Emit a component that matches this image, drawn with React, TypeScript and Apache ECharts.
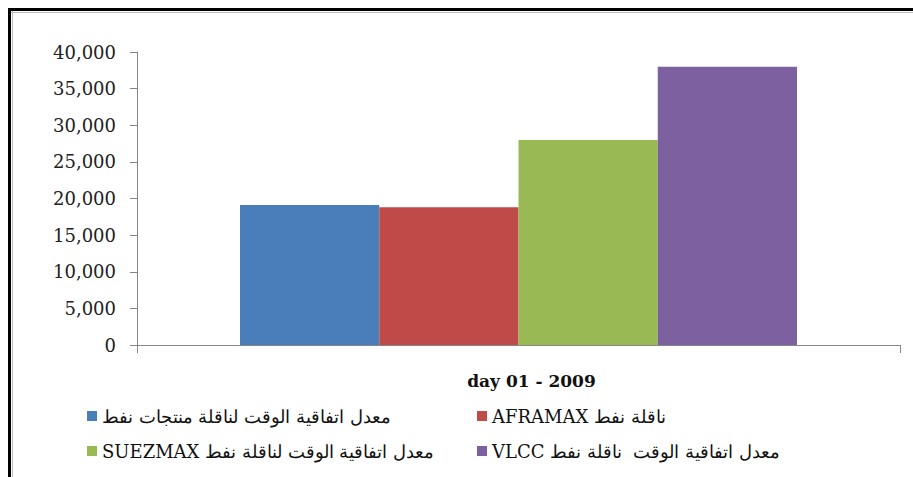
import React, { useEffect, useRef } from "react";
import * as echarts from "echarts";

const categories = ["day 01 - 2009"];
const seriesNames = [
  "معدل اتفاقية الوقت لناقلة منتجات نفط",
  "ناقلة نفط AFRAMAX",
  "معدل اتفاقية الوقت لناقلة نفط SUEZMAX",
  "معدل اتفاقية الوقت  ناقلة نفط VLCC",
];
const seriesValues = [19100, 18800, 28000, 38000];
const seriesColors = ["#4A7EBB", "#BE4B48", "#98B954", "#7D60A0"];
const yMin = 0;
const yMax = 40000;
const yInterval = 5000;

const legendPos = [
  { left: 87, top: 406 },
  { left: 477, top: 406 },
  { left: 87, top: 441 },
  { left: 477, top: 441 },
];

export default function App() {
  const ref = useRef<HTMLDivElement>(null);
  useEffect(() => {
    if (!ref.current) return;
    const chart = echarts.init(ref.current, null, { renderer: "svg" });
    const serif = "'DejaVu Serif', 'Liberation Serif', serif";
    chart.setOption({
      animation: false,
      backgroundColor: "#ffffff",
      grid: { left: 137, right: 13, top: 52, bottom: 132, containLabel: false },
      xAxis: {
        type: "category",
        data: categories,
        axisLine: { show: true, lineStyle: { color: "#868686", width: 1 } },
        axisTick: { show: true, length: 8, alignWithLabel: false, lineStyle: { color: "#868686" } },
        axisLabel: {
          fontFamily: serif,
          fontWeight: "bold",
          fontSize: 17,
          color: "#111",
          margin: 27,
          padding: [0, 0, 0, 26],
        },
        splitLine: { show: false },
      },
      yAxis: {
        type: "value",
        min: yMin,
        max: yMax,
        interval: yInterval,
        axisLine: { show: true, lineStyle: { color: "#868686", width: 1 } },
        axisTick: { show: true, length: 7, lineStyle: { color: "#868686" } },
        splitLine: { show: false },
        axisLabel: {
          fontFamily: serif,
          fontSize: 18,
          color: "#222",
          margin: 21,
          formatter: (v: number) => v.toLocaleString("en-US"),
        },
      },
      legend: seriesNames.map((name, i) => ({
        data: [name],
        left: legendPos[i].left,
        top: legendPos[i].top,
        padding: 0,
        icon: "rect",
        itemWidth: 10,
        itemHeight: 10,
        selectedMode: false,
        formatter: (n: string) => "\u202B" + n + "\u202C",
        textStyle: { fontFamily: serif, fontSize: 18, lineHeight: 20, color: "#111" },
      })),
      series: seriesNames.map((name, i) => ({
        name,
        type: "bar",
        data: [seriesValues[i]],
        barGap: "0%",
        barCategoryGap: "27%",
        itemStyle: { color: seriesColors[i] },
      })),
      graphic: [
        { type: "line", shape: { x1: 8, y1: 9.5, x2: 913, y2: 9.5 }, style: { stroke: "#000", lineWidth: 3 } },
        { type: "line", shape: { x1: 9.5, y1: 8, x2: 9.5, y2: 477 }, style: { stroke: "#000", lineWidth: 3 } },
        { type: "line", shape: { x1: 11, y1: 12.5, x2: 913, y2: 12.5 }, style: { stroke: "#bdbdbd", lineWidth: 1 } },
        { type: "line", shape: { x1: 12.5, y1: 11, x2: 12.5, y2: 477 }, style: { stroke: "#bdbdbd", lineWidth: 1 } },
      ],
    });
    return () => chart.dispose();
  }, []);
  return (
    <div
      ref={ref}
      style={{ position: "fixed", left: 0, top: 0, width: 913, height: 477 }}
    />
  );
}
